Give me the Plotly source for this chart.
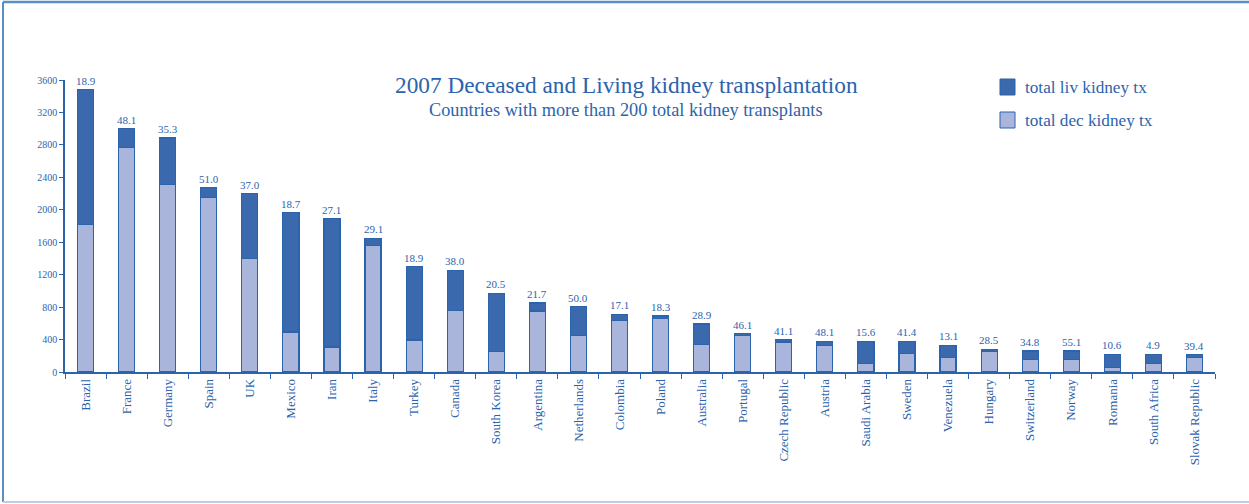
import plotly.graph_objects as go

countries = ["Brazil", "France", "Germany", "Spain", "UK", "Mexico", "Iran", "Italy",
             "Turkey", "Canada", "South Korea", "Argentina", "Netherlands", "Colombia",
             "Poland", "Australia", "Portugal", "Czech Republic", "Austria", "Saudi Arabia",
             "Sweden", "Venezuela", "Hungary", "Switzerland", "Norway", "Romania",
             "South Africa", "Slovak Republic"]
total_tx = [3480, 3000, 2885, 2270, 2200, 1965, 1890, 1650,
            1297, 1256, 970, 850, 805, 710,
            690, 591, 472, 400, 378, 378,
            378, 328, 279, 259, 259, 218,
            218, 213]
dec_tx = [1820, 2765, 2315, 2150, 1395, 493, 308, 1555,
          394, 755, 255, 751, 447, 636,
          657, 337, 447, 370, 328, 107,
          230, 181, 250, 156, 156, 57,
          107, 181]
pmp = ["18.9", "48.1", "35.3", "51.0", "37.0", "18.7", "27.1", "29.1",
       "18.9", "38.0", "20.5", "21.7", "50.0", "17.1",
       "18.3", "28.9", "46.1", "41.1", "48.1", "15.6",
       "41.4", "13.1", "28.5", "34.8", "55.1", "10.6",
       "4.9", "39.4"]
liv_tx = [t - d for t, d in zip(total_tx, dec_tx)]
yticks = [0, 400, 800, 1200, 1600, 2000, 2400, 2800, 3200, 3600]
legend_names = ["total liv kidney tx", "total dec kidney tx"]

BLUE = "#2c63ad"
DARK = "#3b69ae"
LIGHT = "#aab5db"
FONT = "Liberation Serif"

# plot area in pixels: x 65..1215, y 80..372
PL, PW, PT, PH = 65, 1150, 80, 292


def px(x):
    return (x - PL) / PW


def py(y):
    return (PT + PH - y) / PH


fig = go.Figure()
fig.add_trace(go.Bar(x=countries, y=dec_tx, name=legend_names[1],
                     marker=dict(color=LIGHT, line=dict(color=BLUE, width=1.2))))
fig.add_trace(go.Bar(x=countries, y=liv_tx, name=legend_names[0],
                     marker=dict(color=DARK, line=dict(color=BLUE, width=1.2))))

for c, t, p in zip(countries, total_tx, pmp):
    fig.add_annotation(x=c, y=t, text=p, showarrow=False, yanchor="bottom", yshift=1,
                       font=dict(family=FONT, size=11, color=BLUE))

fig.add_annotation(xref="paper", yref="paper", x=px(626), y=py(85), yanchor="middle",
                   text="2007 Deceased and Living kidney transplantation", showarrow=False,
                   font=dict(family=FONT, size=23.3, color=BLUE))
fig.add_annotation(xref="paper", yref="paper", x=px(626), y=py(110), yanchor="middle",
                   text="Countries with more than 200 total kidney transplants", showarrow=False,
                   font=dict(family=FONT, size=18.3, color=BLUE))

# legend (manual swatches + labels)
for i, (name, col) in enumerate(zip(legend_names, [DARK, LIGHT])):
    yc = 87 + 33 * i
    fig.add_shape(type="rect", xref="paper", yref="paper",
                  x0=px(1000), x1=px(1015), y0=py(yc - 8), y1=py(yc + 8),
                  fillcolor=col, line=dict(color=BLUE, width=1))
    fig.add_annotation(xref="paper", yref="paper", x=px(1023), y=py(yc), xanchor="left",
                       yanchor="middle", text=name, showarrow=False,
                       font=dict(family=FONT, size=17.2, color=BLUE))

# outer frame (top, left, bottom)
x0 = px(3)
ytop = py(2)
ybot = py(502)
fig.add_shape(type="line", xref="paper", yref="paper", x0=x0, x1=px(1252),
              y0=ytop, y1=ytop, line=dict(color="#5b8ec4", width=2.5))
fig.add_shape(type="line", xref="paper", yref="paper", x0=x0, x1=x0,
              y0=ytop, y1=ybot, line=dict(color="#5b8ec4", width=2))
fig.add_shape(type="line", xref="paper", yref="paper", x0=x0, x1=px(1252),
              y0=ybot, y1=ybot, line=dict(color="#b9cfe6", width=2))

fig.update_layout(
    barmode="stack", bargap=0.61,
    width=1249, height=504,
    margin=dict(l=PL, r=1249 - PL - PW, t=PT, b=504 - PT - PH),
    paper_bgcolor="white", plot_bgcolor="white",
    font=dict(family=FONT, color=BLUE),
    showlegend=False,
    xaxis=dict(type="category", showline=True, linecolor=BLUE, linewidth=1.5,
               ticks="outside", tickson="boundaries", ticklen=5, tickcolor=BLUE,
               tickangle=-90, tickfont=dict(family=FONT, size=13, color=BLUE),
               showgrid=False),
    yaxis=dict(range=[0, 3600], tickvals=yticks, showline=True, linecolor=BLUE, linewidth=1.5,
               ticks="outside", ticklen=4, tickcolor=BLUE, showgrid=False, zeroline=False,
               tickfont=dict(family=FONT, size=10, color=BLUE)),
)

fig.write_html("out.html", config={"displayModeBar": False},
               post_script="document.body.style.margin='0';")
